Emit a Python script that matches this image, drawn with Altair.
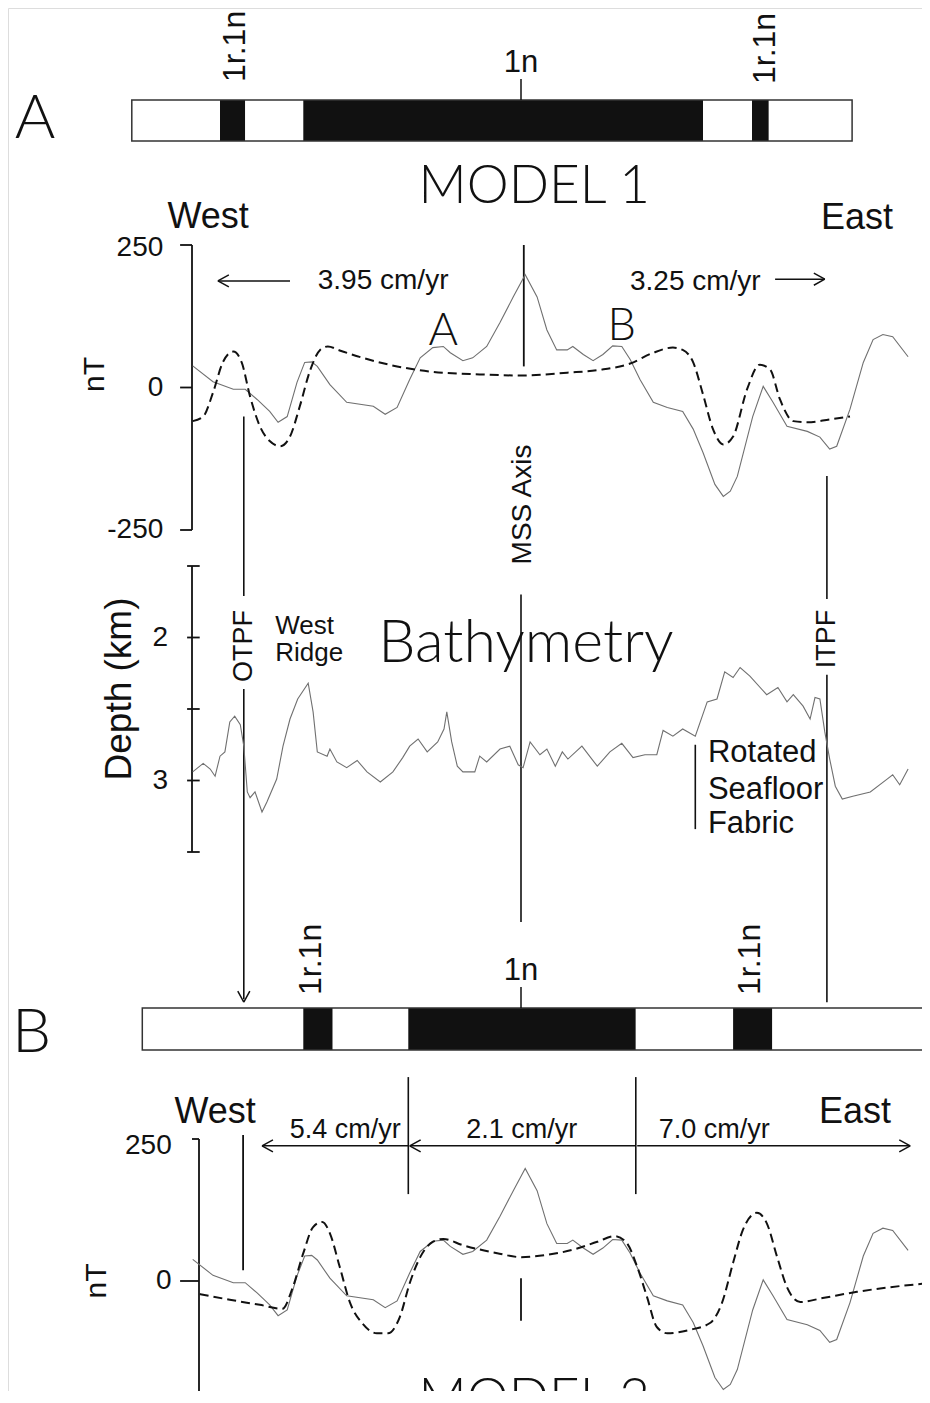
import altair as alt
import pandas as pd

# ---------------- data (distance in km from the MSS axis) ----------------
# Block models: start / end of each polarity block, n = normal, r = reversed
model1_from = [-55.6, -43.0, -39.4, -31.1, 26.0, 33.0, 35.4]
model1_to = [-43.0, -39.4, -31.1, 26.0, 33.0, 35.4, 47.3]
model1_pol = ["r", "n", "r", "n", "r", "n", "r"]

model2_from = [-54.1, -31.1, -26.9, -16.1, 16.4, 30.3, 35.9]
model2_to = [-31.1, -26.9, -16.1, 16.4, 30.3, 35.9, 60.0]
model2_pol = ["r", "n", "r", "n", "r", "n", "r"]

# Observed magnetic anomaly (nT)
obs_km = [-46.9, -44.0, -41.1, -39.4, -37.7, -35.9, -34.7, -33.4, -32.0, -30.9,
          -29.9, -29.1, -27.3, -24.9, -21.1, -19.4, -17.7, -15.9, -14.4, -12.6,
          -11.1, -10.1, -8.3, -6.9, -4.9, -3.0, -1.1, 0.6, 2.3, 3.7,
          5.1, 6.6, 7.4, 8.9, 10.3, 11.7, 13.1, 14.4, 15.6, 17.0,
          18.9, 20.9, 23.1, 24.6, 26.0, 27.7, 28.9, 29.9, 30.9, 33.1,
          34.6, 36.0, 38.0, 40.9, 42.7, 44.1, 45.1, 47.0, 48.9, 50.3,
          51.7, 53.1, 55.3]
obs_nT = [38, 10, -3, -3, -21, -42, -61, -51, 9, 44,
          45, 37, 5, -26, -33, -47, -35, 14, 52, 70,
          72, 61, 47, 52, 72, 114, 159, 198, 159, 101,
          66, 66, 72, 58, 47, 58, 73, 72, 49, 14,
          -26, -35, -42, -73, -114, -170, -191, -182, -156, -51,
          2, -26, -68, -77, -87, -108, -103, -38, 44, 84,
          93, 89, 54]

# Model 1 synthetic anomaly (nT)
syn1_km = [-46.9, -45.4, -44.0, -42.6, -41.1, -39.9, -38.7, -37.3, -35.9, -34.4,
           -33.0, -31.6, -30.1, -28.7, -27.6, -25.9, -22.6, -17.7, -13.0, -5.9,
           0.0, 6.6, 11.3, 15.6, 18.9, 21.7, 23.1, 24.6, 26.0, 27.4,
           28.9, 30.3, 32.3, 34.1, 35.6, 37.0, 38.9, 40.9, 44.1, 47.0]
syn1_nT = [-59, -51, -9, 44, 63, 44, -16, -68, -94, -103,
           -86, -33, 31, 66, 72, 65, 52, 37, 28, 23,
           21, 26, 31, 42, 61, 70, 66, 44, -12, -72,
           -100, -86, -3, 40, 31, -21, -59, -61, -56, -51]

# Model 2 synthetic anomaly (nT)
syn2_km = [-45.9, -41.6, -37.3, -34.1, -32.6, -31.1, -29.7, -28.4, -27.3, -25.9,
           -24.4, -22.7, -20.6, -19.0, -17.3, -15.9, -14.4, -12.6, -11.1, -8.3,
           -3.4, 0.0, 3.7, 7.4, 10.9, 13.4, 15.1, 16.6, 18.0, 19.4,
           20.9, 24.1, 27.0, 28.7, 30.3, 31.7, 33.7, 35.1, 36.6, 38.0,
           39.9, 43.1, 48.0, 52.7, 58.0]
syn2_nT = [-23, -33, -42, -49, -11, 49, 95, 104, 84, 25,
           -39, -74, -92, -92, -63, -4, 42, 69, 74, 63,
           49, 42, 46, 55, 69, 79, 67, 25, -28, -81,
           -92, -86, -74, -39, 32, 90, 120, 102, 42, -11,
           -37, -30, -19, -11, -4]

# Bathymetry (depth, km)
bathy_km = [-46.9, -45.4, -44.4, -43.7, -43.0, -42.3, -41.6, -40.9, -40.1, -39.6,
            -39.1, -38.7, -38.0, -37.0, -36.3, -34.9, -34.0, -33.0, -31.9, -30.4,
            -29.7, -29.1, -27.7, -27.3, -26.3, -24.9, -23.4, -22.0, -20.1, -18.3,
            -16.9, -15.9, -14.7, -13.4, -11.9, -11.0, -10.6, -9.9, -9.1, -8.3,
            -6.6, -5.9, -4.9, -3.0, -1.6, -0.4, 0.3, 1.3, 2.7, 3.7,
            4.9, 5.9, 6.7, 8.7, 10.9, 12.7, 14.4, 16.0, 17.7, 19.4,
            20.3, 21.7, 23.1, 24.9, 26.6, 28.0, 29.1, 30.3, 31.3, 32.7,
            35.1, 36.7, 38.0, 38.9, 40.3, 41.3, 42.0, 42.7, 43.4, 44.1,
            44.9, 45.9, 47.4, 49.9, 52.3, 53.1, 54.1, 55.3]
bathy_depth = [2.94, 2.88, 2.92, 2.97, 2.83, 2.80, 2.59, 2.55, 2.61, 2.76,
               3.08, 3.12, 3.08, 3.22, 3.15, 2.99, 2.76, 2.57, 2.43, 2.32,
               2.52, 2.80, 2.83, 2.78, 2.87, 2.91, 2.86, 2.94, 3.01, 2.94,
               2.84, 2.76, 2.71, 2.80, 2.73, 2.64, 2.52, 2.73, 2.90, 2.94,
               2.94, 2.83, 2.87, 2.78, 2.76, 2.89, 2.91, 2.73, 2.82, 2.78,
               2.90, 2.80, 2.85, 2.76, 2.90, 2.80, 2.74, 2.84, 2.82, 2.82,
               2.65, 2.69, 2.64, 2.69, 2.45, 2.43, 2.24, 2.28, 2.21, 2.27,
               2.40, 2.35, 2.45, 2.40, 2.48, 2.57, 2.42, 2.43, 2.66, 2.85,
               3.04, 3.13, 3.11, 3.08, 2.99, 2.96, 3.03, 2.92]

nT_ticks = [250, 0, -250]
depth_ticks = [1.5, 2.0, 2.5, 3.0, 3.5]
depth_labels = [2.0, 3.0]

# ---------------- styling / scales ----------------
BLACK = "#111111"
GREY = "#707070"
SANS = "Liberation Sans"
GEO = "Lato"

X_SCALE = alt.Scale(domain=[-73, 59], range=[2, 926], nice=False, zero=False)
PANELS = {
    "barA": ([0, 1], [133, 92]),
    "magA": ([-250, 250], [522, 237]),
    "bathy": ([1.5, 3.5], [558, 844]),
    "barB": ([0, 1], [1042, 1000]),
    "magB": ([-250, 250], [1415, 1131]),
}


def X(f="x"):
    return alt.X(f"{f}:Q", scale=X_SCALE, axis=None)


def Y(panel, f="y"):
    d, r = PANELS[panel]
    return alt.Y(f"{f}:Q", scale=alt.Scale(domain=d, range=r, nice=False, zero=False), axis=None)


def blocks(panel, starts, ends, pol):
    df = pd.DataFrame({"x": starts, "x2": ends, "y": [0] * len(starts), "y2": [1] * len(starts),
                       "fill": [BLACK if p == "n" else "white" for p in pol]})
    rect = alt.Chart(df).mark_rect(strokeWidth=0).encode(
        x=X(), x2="x2:Q", y=Y(panel), y2="y2:Q", fill=alt.Fill("fill:N", scale=None))
    box = pd.DataFrame({"x": [starts[0]], "x2": [ends[-1]], "y": [0], "y2": [1]})
    outline = alt.Chart(box).mark_rect(fillOpacity=0, stroke="#333333", strokeWidth=1.5).encode(
        x=X(), x2="x2:Q", y=Y(panel), y2="y2:Q")
    return [rect, outline]


def segs(panel, rows, width=1.8):
    df = pd.DataFrame(rows, columns=["x", "y", "x2", "y2"])
    return alt.Chart(df).mark_rule(color=BLACK, strokeWidth=width).encode(
        x=X(), y=Y(panel), x2="x2:Q", y2="y2:Q")


def texts(panel, rows, size, font=SANS, align="center", baseline="alphabetic", angle=0, weight=400):
    df = pd.DataFrame(rows, columns=["x", "y", "t"])
    props = dict(font=font, fontSize=size, align=align, baseline=baseline, color=BLACK, fontWeight=weight)
    if angle:
        props["angle"] = angle
    return alt.Chart(df).mark_text(**props).encode(x=X(), y=Y(panel), text="t:N")


HEAD = {
    "left": "M0,0L1,-0.55M0,0L1,0.55",
    "right": "M0,0L-1,-0.55M0,0L-1,0.55",
    "down": "M0,0L-0.55,-1M0,0L0.55,-1",
}


def heads(panel, rows, direction):
    df = pd.DataFrame(rows, columns=["x", "y"])
    return alt.Chart(df).mark_point(shape=HEAD[direction], size=480, filled=False, color=BLACK,
                                    strokeWidth=1.5, opacity=1).encode(x=X(), y=Y(panel))


def curve(panel, xs, ys, dashed=False):
    df = pd.DataFrame({"x": xs, "y": ys})
    if dashed:
        m = alt.Chart(df).mark_line(color=BLACK, strokeWidth=2, strokeDash=[9, 5], interpolate="monotone")
    else:
        m = alt.Chart(df).mark_line(color=GREY, strokeWidth=1.1)
    return m.encode(x=X(), y=Y(panel))


layers = []

# ---- Model 1 bar ----
layers += blocks("barA", model1_from, model1_to, model1_pol)
layers.append(segs("barA", [(0, 1, 0, 1.51)], 1.5))
layers.append(texts("barA", [(0, 1.68, "1n")], 31))
layers.append(texts("barA", [(-40.9, 1.44, "1r.1n"), (34.9, 1.39, "1r.1n")], 32,
                    align="left", baseline="middle", angle=270))
layers.append(texts("barA", [(-69.4, 0.07, "A")], 62, font=GEO, weight=300))
layers.append(texts("barA", [(1.9, -1.51, "MODEL 1")], 53, font=GEO, weight=300))

# ---- Magnetics, model 1 ----
layers.append(segs("magA", [(-47.0, -250, -47.0, 250)] + [(-48.7, t, -47.0, t) for t in nT_ticks]))
layers.append(segs("magA", [(-43.3, 187, -33.0, 187), (36.3, 190, 43.4, 190)], 1.5))
layers.append(segs("magA", [(0.4, 37, 0.4, 250)]))
layers.append(heads("magA", [(-43.3, 187)], "left"))
layers.append(heads("magA", [(43.4, 190)], "right"))
layers.append(curve("magA", obs_km, obs_nT))
layers.append(curve("magA", syn1_km, syn1_nT, dashed=True))
layers.append(texts("magA", [(-51.1, 244 if t == 250 else t, str(t)) for t in nT_ticks], 28,
                    align="right", baseline="middle"))
layers.append(texts("magA", [(-60.9, 23, "nT")], 30, baseline="middle", angle=270))
layers.append(texts("magA", [(-44.7, 280, "West"), (48.0, 278, "East")], 36))
layers.append(texts("magA", [(-19.7, 187, "3.95 cm/yr"), (24.9, 185, "3.25 cm/yr")], 28, baseline="middle"))
layers.append(texts("magA", [(-11.1, 75, "A"), (14.4, 84, "B")], 45, font=GEO, weight=300))

# ---- Bathymetry ----
layers.append(segs("bathy", [(-47.0, 1.5, -47.0, 3.5)] + [(-47.7, d, -45.9, d) for d in depth_ticks]))
layers.append(segs("bathy", [(-39.6, 0.455, -39.6, 1.71), (-39.6, 2.36, -39.6, 4.53),
                             (43.7, 0.87, 43.7, 1.73), (43.7, 2.26, 43.7, 4.55),
                             (0.0, 1.70, 0.0, 3.99), (24.9, 2.75, 24.9, 3.34)], 1.6))
layers.append(heads("bathy", [(-39.6, 4.55)], "down"))
layers.append(curve("bathy", bathy_km, bathy_depth))
layers.append(texts("bathy", [(-50.4, d, str(int(d))) for d in depth_labels], 28, align="right", baseline="middle"))
layers.append(texts("bathy", [(-57.3, 2.36, "Depth (km)")], 37, baseline="middle", angle=270))
layers.append(texts("bathy", [(-39.6, 2.06, "OTPF"), (43.7, 2.01, "ITPF")], 27, baseline="middle", angle=270))
layers.append(texts("bathy", [(0.3, 1.07, "MSS Axis")], 28, baseline="middle", angle=270))
layers.append(texts("bathy", [(-35.1, 1.975, "West"), (-35.1, 2.165, "Ridge")], 26, align="left"))
layers.append(texts("bathy", [(26.7, 2.87, "Rotated"), (26.7, 3.13, "Seafloor"), (26.7, 3.37, "Fabric")], 31,
                    align="left"))
layers.append(texts("bathy", [(-20.4, 2.17, "Bathymetry")], 59, font=GEO, align="left", weight=300))

# ---- Model 2 bar ----
layers += blocks("barB", model2_from, model2_to, model2_pol)
layers.append(segs("barB", [(0, 1, 0, 1.5)], 1.5))
layers.append(texts("barB", [(0, 1.67, "1n")], 31))
layers.append(texts("barB", [(-30.0, 1.31, "1r.1n"), (32.7, 1.31, "1r.1n")], 32,
                    align="left", baseline="middle", angle=270))
layers.append(texts("barB", [(-69.9, -0.05, "B")], 62, font=GEO, weight=300))

# ---- Magnetics, model 2 ----
layers.append(segs("magB", [(-46.0, 250, -46.0, -270), (-47.0, 250, -46.0, 250), (-48.7, 0, -46.0, 0),
                            (-39.7, 257, -39.7, 19), (0.0, 5, 0.0, -70)]))
layers.append(segs("magB", [(-16.1, 359, -16.1, 153), (16.4, 359, 16.4, 153)], 1.6))
layers.append(segs("magB", [(-16.1, 238, -37.0, 238), (16.4, 238, -15.9, 238), (16.6, 238, 55.6, 238)], 1.5))
layers.append(heads("magB", [(-37.0, 238), (-15.9, 238)], "left"))
layers.append(heads("magB", [(55.6, 238)], "right"))
layers.append(curve("magB", obs_km, obs_nT))
layers.append(curve("magB", syn2_km, syn2_nT, dashed=True))
layers.append(texts("magB", [(-49.9, 237, "250"), (-49.9, 0, "0")], 28, align="right", baseline="middle"))
layers.append(texts("magB", [(-60.6, 0, "nT")], 30, baseline="middle", angle=270))
layers.append(texts("magB", [(-43.7, 278, "West"), (47.7, 278, "East")], 36))
layers.append(texts("magB", [(-25.1, 252, "5.4 cm/yr"), (0.1, 252, "2.1 cm/yr"), (27.6, 252, "7.0 cm/yr")], 27))
layers.append(texts("magB", [(1.9, -238, "MODEL 2")], 53, font=GEO, weight=300))

chart = (
    alt.layer(*layers)
    .resolve_scale(y="independent")
    .properties(width=914, height=1383, autosize=alt.AutoSizeParams(type="none"), padding=0)
    .configure_view(strokeWidth=0, stroke="transparent")
    .configure(background="white")
)

chart.save("out.html", embed_options={"renderer": "svg", "actions": False})
